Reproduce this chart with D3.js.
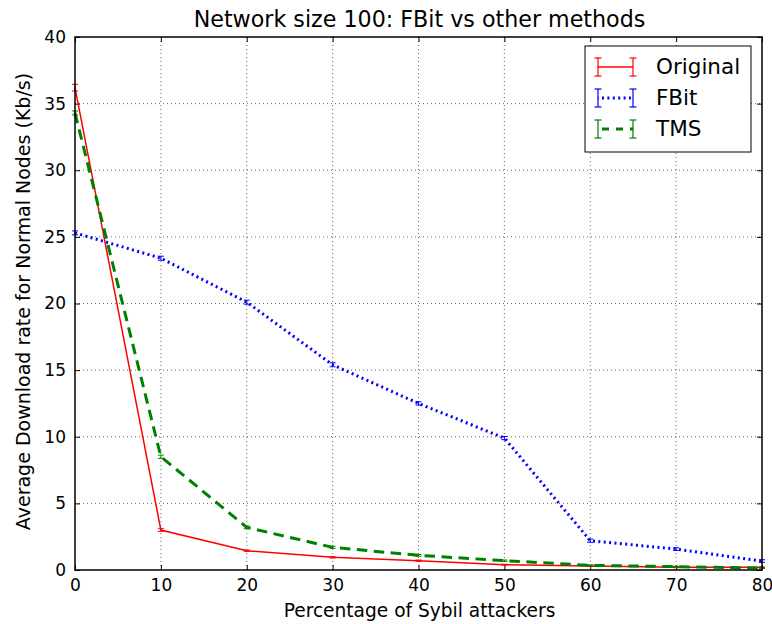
<html>
<head>
<script src="https://d3js.org/d3.v7.min.js"></script>
<style>
  body { margin: 0; background: #fff; }
  text { font-family: "DejaVu Sans", sans-serif; }
</style>
</head>
<body>
<svg id="chart" width="772" height="624"></svg>
<script>
// data
var xs = [0, 10, 20, 30, 40, 50, 60, 70, 80];
var original = [36.2, 3.0, 1.45, 0.95, 0.7, 0.4, 0.3, 0.2, 0.2];
var originalErr = [0.25, 0.1, 0.05, 0.05, 0.05, 0.03, 0.03, 0.03, 0.03];
var fbit = [25.3, 23.4, 20.1, 15.4, 12.5, 9.9, 2.2, 1.57, 0.67];
var fbitErr = [0.15, 0.15, 0.15, 0.15, 0.12, 0.12, 0.12, 0.1, 0.1];
var tms = [34.3, 8.5, 3.2, 1.7, 1.1, 0.7, 0.35, 0.25, 0.15];
var tmsErr = [0.15, 0.12, 0.1, 0.08, 0.06, 0.05, 0.04, 0.03, 0.03];
var xTicks = [0, 10, 20, 30, 40, 50, 60, 70, 80];
var yTicks = [0, 5, 10, 15, 20, 25, 30, 35, 40];

var series = [
    {name: "Original", vals: original, err: originalErr, color: "#ff0000", width: 1.5, dash: null},
    {name: "FBit", vals: fbit, err: fbitErr, color: "#0000ff", width: 3, dash: "2,3.4"},
    {name: "TMS", vals: tms, err: tmsErr, color: "#008000", width: 3, dash: "10.5,6.5"}
];

var svg = d3.select("#chart");
var pLeft = 75, pRight = 762, pTop = 37, pBottom = 570;

var x = d3.scaleLinear().domain([0, 80]).range([pLeft, pRight]);
var y = d3.scaleLinear().domain([0, 40]).range([pBottom, pTop]);

// grid
var grid = svg.append("g");
grid.selectAll(".gx").data(xTicks.slice(1, -1)).enter().append("line")
    .attr("x1", d => x(d)).attr("x2", d => x(d))
    .attr("y1", pTop).attr("y2", pBottom)
    .attr("stroke", "#000").attr("stroke-width", 0.6).attr("stroke-dasharray", "1,3");
grid.selectAll(".gy").data(yTicks.slice(1, -1)).enter().append("line")
    .attr("x1", pLeft).attr("x2", pRight)
    .attr("y1", d => y(d)).attr("y2", d => y(d))
    .attr("stroke", "#000").attr("stroke-width", 0.6).attr("stroke-dasharray", "1,3");

// axes, ticks inward on all sides
var ax = svg.append("g").attr("transform", "translate(0," + pBottom + ")")
    .call(d3.axisBottom(x).tickValues(xTicks).tickSize(-5).tickPadding(9));
var axTop = svg.append("g").attr("transform", "translate(0," + pTop + ")")
    .call(d3.axisTop(x).tickValues(xTicks).tickSize(-5).tickFormat(""));
var ay = svg.append("g").attr("transform", "translate(" + pLeft + ",0)")
    .call(d3.axisLeft(y).tickValues(yTicks).tickSize(-5).tickPadding(9));
var ayRight = svg.append("g").attr("transform", "translate(" + pRight + ",0)")
    .call(d3.axisRight(y).tickValues(yTicks).tickSize(-5).tickFormat(""));
[ax, axTop, ay, ayRight].forEach(function(g) {
    g.select(".domain").remove();
    g.attr("font-family", null).attr("font-size", null);
    g.selectAll("line").attr("stroke", "#000");
    g.selectAll("text").style("font-size", "17px").attr("fill", "#000");
});

// lines + error bars
var line = d3.line().x((d, i) => x(xs[i])).y(d => y(d));
series.forEach(function(s) {
    var g = svg.append("g");
    s.vals.forEach(function(v, i) {
        var cx = x(xs[i]);
        g.append("line").attr("x1", cx).attr("x2", cx)
            .attr("y1", y(v - s.err[i])).attr("y2", y(v + s.err[i]))
            .attr("stroke", s.color).attr("stroke-width", 1);
        [v - s.err[i], v + s.err[i]].forEach(function(e) {
            g.append("line").attr("x1", cx - 3).attr("x2", cx + 3)
                .attr("y1", y(e)).attr("y2", y(e))
                .attr("stroke", s.color).attr("stroke-width", 1);
        });
    });
    g.append("path").datum(s.vals).attr("d", line)
        .attr("fill", "none").attr("stroke", s.color)
        .attr("stroke-width", s.width)
        .attr("stroke-dasharray", s.dash);
});

// frame
svg.append("rect").attr("x", pLeft).attr("y", pTop)
    .attr("width", pRight - pLeft).attr("height", pBottom - pTop)
    .attr("fill", "none").attr("stroke", "#000").attr("stroke-width", 1.5);

// title + labels
svg.append("text").attr("x", (pLeft + pRight) / 2 + 1).attr("y", 27)
    .attr("text-anchor", "middle").style("font-size", "22.2px")
    .text("Network size 100: FBit vs other methods");
svg.append("text").attr("x", (pLeft + pRight) / 2 + 1).attr("y", 617)
    .attr("text-anchor", "middle").style("font-size", "18.6px")
    .text("Percentage of Sybil attackers");
svg.append("text").attr("transform", "translate(30," + ((pTop + pBottom) / 2 - 2) + ") rotate(-90)")
    .attr("text-anchor", "middle").style("font-size", "19px")
    .text("Average Download rate for Normal Nodes (Kb/s)");

// legend
var lg = svg.append("g").attr("transform", "translate(585,46)");
lg.append("rect").attr("width", 166).attr("height", 106)
    .attr("fill", "#fff").attr("stroke", "#000").attr("stroke-width", 1);
series.forEach(function(s, i) {
    var ly = 21 + i * 31;
    var x1 = 13, x2 = 48;
    lg.append("line").attr("x1", x1).attr("x2", x2).attr("y1", ly).attr("y2", ly)
        .attr("stroke", s.color).attr("stroke-width", s.width)
        .attr("stroke-dasharray", s.dash ? (i == 2 ? "7,7" : "2,3.4") : null)
        .attr("stroke-dashoffset", i == 2 ? -4 : -4);
    [x1, x2].forEach(function(ex) {
        lg.append("line").attr("x1", ex).attr("x2", ex).attr("y1", ly - 9).attr("y2", ly + 9)
            .attr("stroke", s.color).attr("stroke-width", 1.2);
        lg.append("line").attr("x1", ex - 3.5).attr("x2", ex + 3.5).attr("y1", ly - 9).attr("y2", ly - 9)
            .attr("stroke", s.color).attr("stroke-width", 1.2);
        lg.append("line").attr("x1", ex - 3.5).attr("x2", ex + 3.5).attr("y1", ly + 9).attr("y2", ly + 9)
            .attr("stroke", s.color).attr("stroke-width", 1.2);
    });
    lg.append("text").attr("x", 71).attr("y", ly + 7).style("font-size", "21.5px").text(s.name);
});
</script>
</body>
</html>
